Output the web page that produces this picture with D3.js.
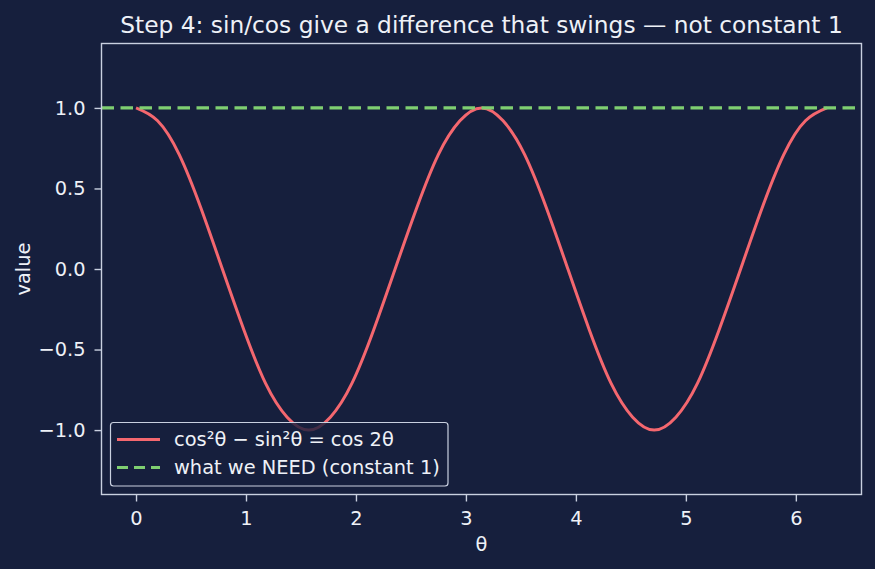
<!DOCTYPE html>
<html><head><meta charset="utf-8">
<script src="https://cdn.jsdelivr.net/npm/d3@7"></script>
<style>
html,body{margin:0;padding:0;background:#161f3d;}
svg text{font-family:"DejaVu Sans",sans-serif;}
</style></head>
<body>
<svg id="chart" width="875" height="569"></svg>
<script>
// θ sample positions (k·π/16) and curve values
const thetaValues = [0,0.196,0.393,0.589,0.785,0.982,1.178,1.374,1.571,1.767,1.963,2.160,2.356,2.553,2.749,2.945,3.142,3.338,3.534,3.731,3.927,4.123,4.320,4.516,4.712,4.909,5.105,5.301,5.498,5.694,5.890,6.087,6.283];
const curveValues = [1,0.92,0.71,0.38,0,-0.38,-0.71,-0.92,-1,-0.92,-0.71,-0.38,0,0.38,0.71,0.92,1,0.92,0.71,0.38,0,-0.38,-0.71,-0.92,-1,-0.92,-0.71,-0.38,0,0.38,0.71,0.92,1];
const needValue = 1;
const xTicks = [0,1,2,3,4,5,6];
const yTicks = [-1.0,-0.5,0.0,0.5,1.0];
const legendLabels = ["cos²θ − sin²θ = cos 2θ","what we NEED (constant 1)"];
const titleText = "Step 4: sin/cos give a difference that swings — not constant 1";

const bg = "#161f3d", fg = "#eef1f7", spine = "#c9d0e0";
const red = "#f4676f", green = "#7fcf71";
const FS = 19.4, TFS = 23.3;
const svg = d3.select("#chart");
svg.append("rect").attr("width",875).attr("height",569).attr("fill",bg);

const L=101.5, R=861.5, T=43.5, B=494.5;
const x = d3.scaleLinear().domain([-0.314,6.597]).range([L,R]);
const y = d3.scaleLinear().domain([-1.4,1.4]).range([B,T]);

const data = thetaValues.map((t,i)=>({t,v:curveValues[i]}));

// lines
const g = svg.append("g");
g.append("path").datum(data)
  .attr("d", d3.line().x(d=>x(d.t)).y(d=>y(d.v)).curve(d3.curveNatural))
  .attr("fill","none").attr("stroke",red).attr("stroke-width",3);
g.append("line").attr("x1",L).attr("x2",R).attr("y1",y(needValue)).attr("y2",y(needValue))
  .attr("stroke",green).attr("stroke-width",3.2).attr("stroke-dasharray","12.5,6.5");

// axes
const xa = svg.append("g").attr("transform",`translate(0,${B})`)
  .call(d3.axisBottom(x).tickValues(xTicks).tickFormat(d3.format("d")).tickSize(7).tickPadding(10));
const ya = svg.append("g").attr("transform",`translate(${L},0)`)
  .call(d3.axisLeft(y).tickValues(yTicks).tickFormat(d=>d3.format(".1f")(d).replace("-","\u2212")).tickSize(7).tickPadding(9));
[xa,ya].forEach(a=>{
  a.attr("font-size",null).attr("font-family",null);
  a.select(".domain").remove();
  a.selectAll(".tick line").attr("stroke",spine).attr("stroke-width",1.4);
  a.selectAll(".tick text").attr("fill",fg).attr("font-size",FS);
});
// spines
svg.append("rect").attr("x",L).attr("y",T).attr("width",R-L).attr("height",B-T)
  .attr("fill","none").attr("stroke",spine).attr("stroke-width",1.4);

// labels
svg.append("text").attr("x",(L+R)/2).attr("y",33).attr("text-anchor","middle")
  .attr("fill",fg).attr("font-size",TFS).text(titleText);
svg.append("text").attr("x",(L+R)/2).attr("y",551).attr("text-anchor","middle")
  .attr("fill",fg).attr("font-size",FS).text("θ");
svg.append("text").attr("transform",`translate(30,${(T+B)/2}) rotate(-90)`).attr("text-anchor","middle")
  .attr("fill",fg).attr("font-size",FS).text("value");

// legend
const lg = svg.append("g");
lg.append("rect").attr("x",110.5).attr("y",422.5).attr("width",337.5).attr("height",63.5).attr("rx",3)
  .attr("fill",bg).attr("fill-opacity",0.8).attr("stroke",spine).attr("stroke-width",1.2);
const rows=[{c:red,dash:null,y:439.5},{c:green,dash:"11,6",y:467.5}];
rows.forEach((r,i)=>{
  lg.append("line").attr("x1",117).attr("x2",160).attr("y1",r.y).attr("y2",r.y)
    .attr("stroke",r.c).attr("stroke-width",r.dash?3.2:3).attr("stroke-dasharray",r.dash);
  lg.append("text").attr("x",174).attr("y",r.y).attr("dy","0.35em").attr("fill",fg)
    .attr("font-size",FS).text(legendLabels[i]);
});
</script>
</body></html>
